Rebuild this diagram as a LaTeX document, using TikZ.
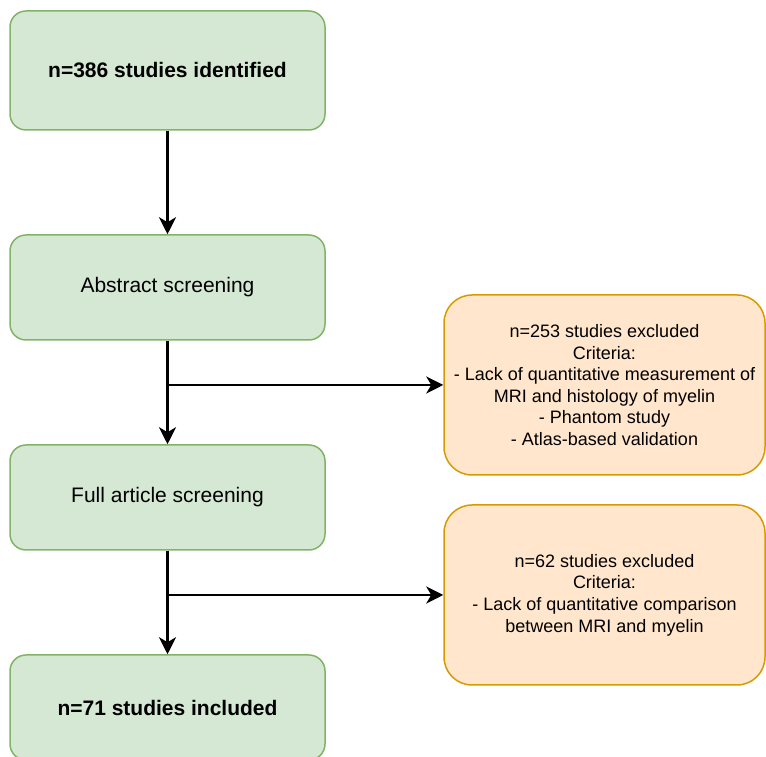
\documentclass[tikz,border=0pt]{standalone}
\usepackage{fontspec}
\setmainfont{Liberation Sans}
\usetikzlibrary{arrows.meta}
\definecolor{stepfill}{HTML}{D5E8D4}
\definecolor{stepline}{HTML}{82B366}
\definecolor{exclfill}{HTML}{FFE6CC}
\definecolor{exclline}{HTML}{D79B00}
\tikzset{
  stepbox/.style={draw=stepline,fill=stepfill,line width=1.5pt,rounded corners=16pt,
    minimum width=315pt,minimum height=105pt,inner sep=0pt,align=center,
    font=\fontsize{21}{25}\selectfont},
  exclbox/.style={draw=exclline,fill=exclfill,line width=1.5pt,rounded corners=28pt,
    minimum width=321pt,minimum height=180pt,inner sep=0pt,align=center,
    font=\fontsize{18}{21.6}\selectfont},
  flow/.style={line width=2.5pt,-{Stealth[length=17pt,width=17pt,inset=5pt]}}
}
\begin{document}
\begin{tikzpicture}[x=1pt,y=1pt]
                    \useasboundingbox (0,0) rectangle (766,757);
                    % main steps
                    \node[stepbox,minimum height=119pt] (found) at (167.5,686.5) {\textbf{n=386 studies identified}};
                    \node[stepbox] (abstract) at (167.5,469.5) {Abstract screening};
                    \node[stepbox] (fulltext) at (167.5,259.5) {Full article screening};
                    \node[stepbox] (kept) at (167.5,49.5) {\textbf{n=71 studies included}};

                    % exclusions
                    \node[exclbox] (dropA) at (604.5,372) {n=253 studies excluded\\Criteria:\\- Lack of quantitative measurement of\\MRI and histology of myelin\\- Phantom study\\- Atlas-based validation};
                    \node[exclbox] (dropB) at (604.5,162) {n=62 studies excluded\\Criteria:\\- Lack of quantitative comparison\\between MRI and myelin};

                    \draw[flow] (found) -- (abstract);
                    \draw[flow] (abstract) -- (fulltext);
                    \draw[flow] (fulltext) -- (kept);
                    \draw[flow] (abstract.south |- dropA.west) -- (dropA);
                    \draw[flow] (fulltext.south |- dropB.west) -- (dropB);
                \end{tikzpicture}
\end{document}
